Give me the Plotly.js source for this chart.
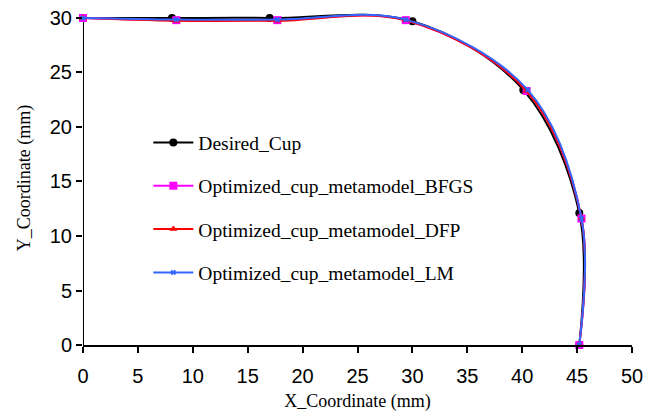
<!DOCTYPE html>
<html>
<head>
<meta charset="utf-8">
<script src="https://cdn.plot.ly/plotly-3.0.1.min.js"></script>
<style>html,body{margin:0;padding:0;background:#fff;}</style>
</head>
<body>
<div id="chart" style="width:661px;height:417px;"></div>
<script>
const desiredX = [0, 8.1, 17.0, 30.0, 40.1, 45.2, 45.2];
const desiredY = [30, 30.0, 30.0, 29.7, 23.4, 12.1, 0];
const bfgsX = [0, 8.5, 17.7, 29.4, 40.4, 45.4, 45.2];
const bfgsY = [30, 29.8, 29.8, 29.8, 23.3, 11.6, 0];
const dfpX = [0, 8.5, 17.7, 29.4, 40.4, 45.4, 45.2];
const dfpY = [30, 29.75, 29.75, 29.8, 23.3, 11.6, 0];
const lmX = [0, 8.5, 17.7, 29.4, 40.5, 45.4, 45.2];
const lmY = [30, 29.85, 29.85, 29.85, 23.4, 11.6, 0];
const names = ['Desired_Cup', 'Optimized_cup_metamodel_BFGS', 'Optimized_cup_metamodel_DFP', 'Optimized_cup_metamodel_LM'];
const xTicks = [0, 5, 10, 15, 20, 25, 30, 35, 40, 45, 50];
const yTicks = [0, 5, 10, 15, 20, 25, 30];

function tr(x, y, name, color, symbol, size, g) {
  return {
    x: x, y: y, name: name, type: 'scatter', mode: 'lines+markers',
    line: {color: color, width: 2, shape: 'spline', smoothing: 1},
    marker: {color: color, symbol: symbol, size: size},
    legendgroup: g, cliponaxis: false
  };
}
const data = [
  tr(desiredX, desiredY, names[0], '#000000', 'circle', 8, 'a'),
  tr(bfgsX, bfgsY, names[1], '#ff00ff', 'square', 8, 'b'),
  tr(dfpX, dfpY, names[2], '#ff0000', 'triangle-up', 7, 'c'),
  tr(lmX, lmY, names[3], '#3366ff', 'x', 5, 'd')
];
const serif = 'Liberation Serif, Times New Roman, serif';
const sans = 'Liberation Sans, Arial, sans-serif';
const layout = {
  width: 661, height: 417,
  margin: {l: 83, r: 29, t: 11, b: 72},
  paper_bgcolor: '#fff', plot_bgcolor: '#fff',
  showlegend: true,
  legend: {
    x: 0.119, y: 0.664, xanchor: 'left', yanchor: 'top',
    bgcolor: 'rgba(0,0,0,0)',
    font: {family: serif, size: 19.5, color: '#000'},
    tracegroupgap: 15, traceorder: 'grouped', itemwidth: 40
  },
  xaxis: {
    range: [0, 50], tickvals: xTicks, ticktext: xTicks.map(String),
    showgrid: false, zeroline: false, showline: true, linecolor: '#000', linewidth: 2,
    ticks: 'outside', ticklen: 6, tickwidth: 2, tickcolor: '#000',
    ticklabelstandoff: 6,
    tickfont: {family: sans, size: 20, color: '#000'},
    title: {text: 'X_Coordinate (mm)', font: {family: serif, size: 18, color: '#000'}, standoff: 8}
  },
  yaxis: {
    range: [0, 30.64], tickvals: yTicks, ticktext: yTicks.map(String),
    showgrid: false, zeroline: false, showline: false,
    ticks: 'outside', ticklen: 6, tickwidth: 2, tickcolor: '#000',
    tickfont: {family: sans, size: 20, color: '#000'},
    title: {text: 'Y_Coordinate (mm)', font: {family: serif, size: 18, color: '#000'}, standoff: 14}
  },
  shapes: [
    {type: 'line', xref: 'x', yref: 'y', x0: 0, x1: 0, y0: 0, y1: 30, line: {color: '#000', width: 2}, layer: 'below'}
  ]
};
Plotly.newPlot('chart', data, layout, {displayModeBar: false, staticPlot: true});
</script>
</body>
</html>
